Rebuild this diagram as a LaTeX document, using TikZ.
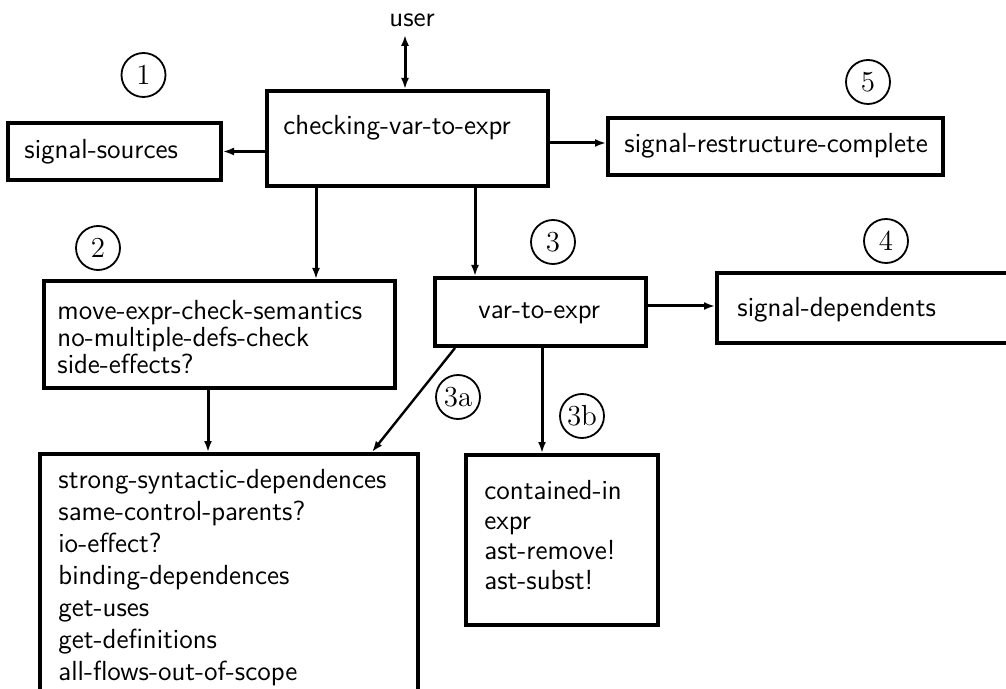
\documentclass[tikz,border=0pt]{standalone}
\usetikzlibrary{arrows.meta}
\begin{document}
\begin{tikzpicture}[x=0.5pt,y=-0.5pt,
  box/.style n args={2}{draw,line width=2pt,inner sep=0pt,
    minimum width=#1*0.5pt,minimum height=#2*0.5pt},
  txt/.style={inner sep=0pt,anchor=west,align=left,
    font=\fontsize{13.8}{16}\selectfont\sffamily},
  num/.style={draw,circle,line width=0.9pt,minimum size=22pt,inner sep=0pt,
    font=\fontsize{14.5}{16}\selectfont\rmfamily},
  arr/.style={line width=1.5pt,-{Latex[length=5.5pt,width=4pt]}},
  darr/.style={line width=1.5pt,{Latex[length=5.5pt,width=4pt]}-{Latex[length=5.5pt,width=4pt]}}]
\useasboundingbox (0,0) rectangle (1006,689);
\clip (0,0) rectangle (1006,689);

% boxes
\node[box={281}{95}]  (check) at (407.5,138.5) {};
\node[box={213}{57}]  (src)   at (114.5,151.5) {};
\node[box={335}{57}]  (restr) at (775.5,146.5) {};
\node[box={351}{107}] (sem)   at (219.5,334.5) {};
\node[box={211}{68}]  (vte)   at (540.5,312) {};
\node[box={313}{70}]  (dep)   at (873.5,308) {};
\node[box={378}{266}] (deps)  at (229,587) {};
\node[box={192}{170}] (sub)   at (562,540) {};

% box texts
\node[txt] (user)   at (389,20)  {user};
\node[txt] (checkt) at (283,128) {checking-var-to-expr};
\node[txt] (srct)   at (24,152)  {signal-sources};
\node[txt] (restrt) at (624,146) {signal-restructure-complete};
\node[txt,font=\fontsize{13.8}{13.6}\selectfont\sffamily] (semt) at (57,337)
  {move-expr-check-semantics\\no-multiple-defs-check\\side-effects?};
\node[txt] (vtet)   at (478,313) {var-to-expr};
\node[txt] (dept)   at (737,310) {signal-dependents};
\node[txt] (depst)  at (58,578)
  {strong-syntactic-dependences\\same-control-parents?\\io-effect?\\binding-dependences\\get-uses\\get-definitions\\all-flows-out-of-scope};
\node[txt,font=\fontsize{13.8}{15}\selectfont\sffamily] (subt) at (484,535)
  {contained-in\\expr\\ast-remove!\\ast-subst!};

% step numbers
\node[num] (n1)  at (143.5,75) {1};
\node[num] (n5)  at (868,82)   {5};
\node[num] (n2)  at (98,248)   {2};
\node[num] (n3)  at (553,242)  {3};
\node[num] (n4)  at (886,241)  {4};
\node[num] (n3a) at (458,397)  {3a};
\node[num] (n3b) at (582,416)  {3b};

% connectors
\draw[darr,shorten >=4pt] (check.north -| 405,0) -- (user.south -| 405,0);
\draw[arr] (check.west |- src.east) -- (src.east);
\draw[arr] (check.east |- 0,143) -- (restr.west |- 0,143);
\draw[arr] (check.south -| 316,0) -- (sem.north -| 316,0);
\draw[arr] (check.south -| 475,0) -- (vte.north -| 475,0);
\draw[arr] (vte.east |- 0,306) -- (dep.west |- 0,306);
\draw[arr] (sem.south -| 208,0) -- (deps.north -| 208,0);
\draw[arr,line width=1.2pt] (vte.south -| 455,0) -- (deps.north -| 372,0);
\draw[arr] (vte.south -| 542,0) -- (sub.north -| 542,0);
\end{tikzpicture}
\end{document}
